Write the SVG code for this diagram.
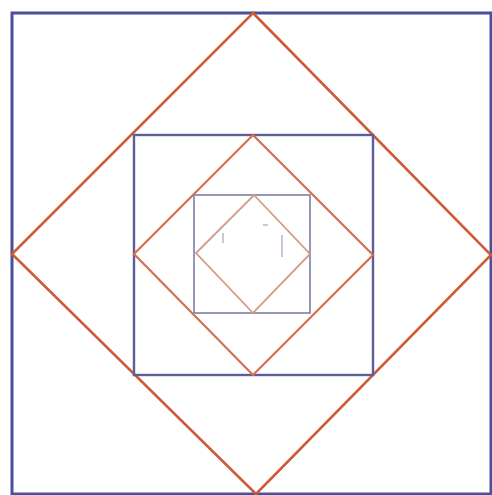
<svg xmlns="http://www.w3.org/2000/svg" width="492" height="495" viewBox="0 0 492 495">
<style>
.sq{fill:none;stroke-linejoin:miter}
.dm{fill:none;stroke-linejoin:miter}
</style>
<rect width="492" height="495" fill="#ffffff"/>
<g id="square-outer"><rect class="sq" x="12" y="13" width="479" height="481" stroke="#4b4f9c" stroke-width="3"/></g>
<g id="diamond-outer"><polygon class="dm" points="253,13 491,255 256,494 12,254" stroke="#cf5a36" stroke-width="2.6"/></g>
<g id="square-middle"><rect class="sq" x="134" y="135" width="239" height="240" stroke="#5a5f9a" stroke-width="2.4"/></g>
<g id="diamond-middle"><polygon class="dm" points="253,135 373,255 253,375 134,254" stroke="#d4704f" stroke-width="2.2"/></g>
<g id="square-inner"><rect class="sq" x="194" y="195" width="116" height="118" stroke="#8a8db0" stroke-width="1.8"/></g>
<g id="diamond-inner"><polygon class="dm" points="254,195 310,254 253,313 196,253" stroke="#d49a88" stroke-width="1.8"/></g>
<g id="ticks" stroke="#a7aac4" stroke-width="1.3" fill="none">
<line x1="223" y1="233" x2="223" y2="243"/>
<line x1="282" y1="235" x2="282" y2="257"/>
<line x1="263" y1="225" x2="268" y2="225"/>
</g>
</svg>
